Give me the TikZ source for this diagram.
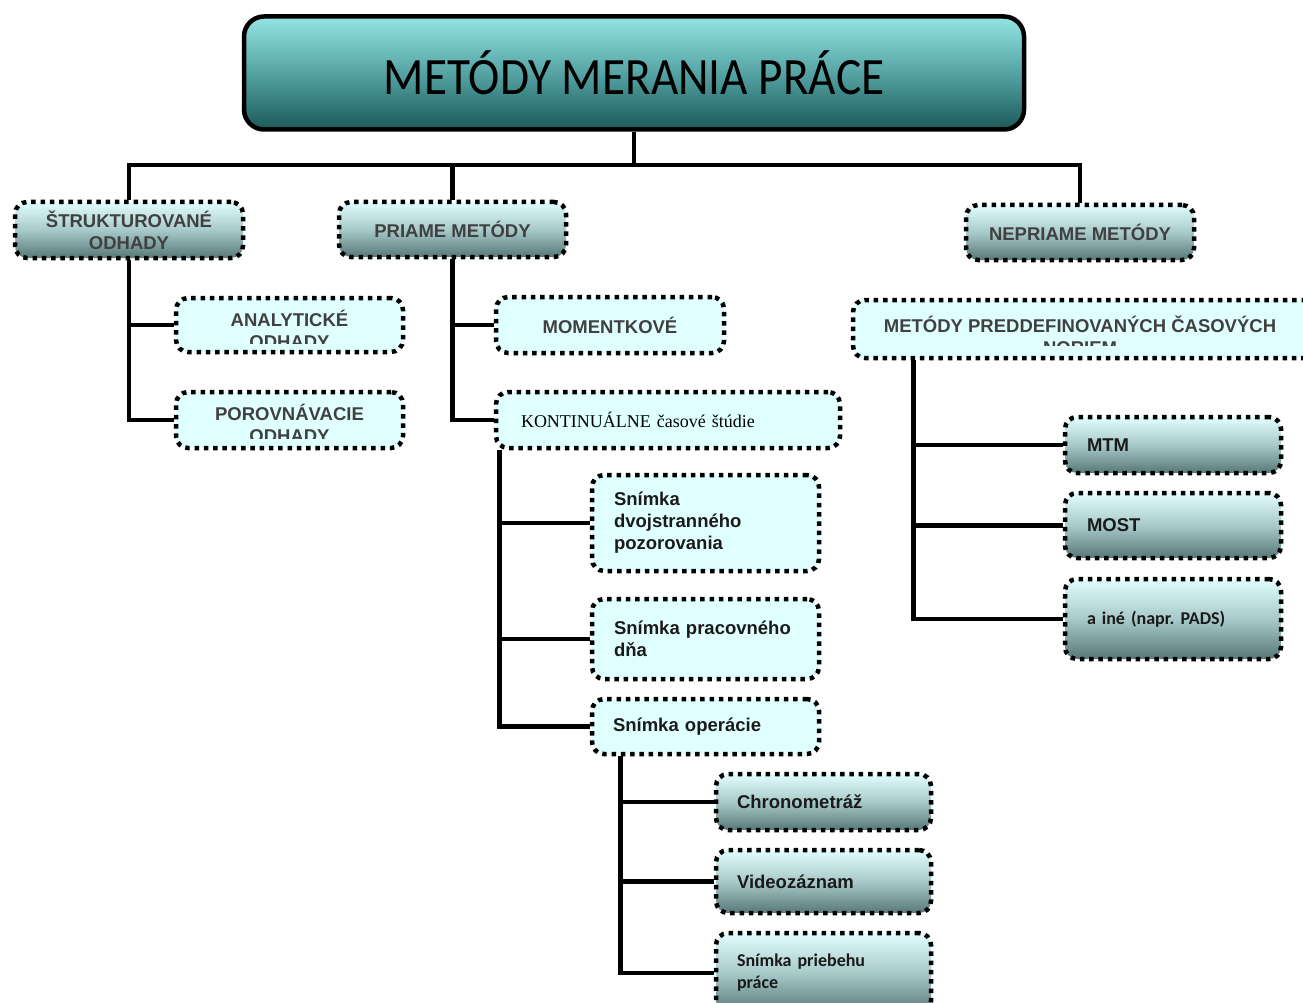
\documentclass[tikz,border=0pt]{standalone}
\usepackage{fontspec}
\setmainfont{Liberation Sans}
\newfontfamily\calib{Carlito}
\newfontfamily\calibT{Carlito}[FakeStretch=0.9]
\newfontfamily\timesf{Liberation Serif}
\usetikzlibrary{calc}
\definecolor{lcyan}{HTML}{E0FFFF}
\definecolor{gtop}{HTML}{E2FDFD}
\definecolor{gmid}{HTML}{A8C9C9}
\definecolor{gbot}{HTML}{587878}
\definecolor{ttop}{HTML}{95E4E4}
\definecolor{tmid}{HTML}{55A3A3}
\definecolor{tbot}{HTML}{1A5959}
\definecolor{dgray}{HTML}{404040}
\definecolor{nblack}{HTML}{1A1A1A}
\tikzset{
  dotbox/.style={draw=black, line width=4.5pt, dash pattern=on 4.5pt off 4.8pt, rounded corners=12pt, inner sep=0pt},
  gbox/.style={dotbox, top color=gtop, bottom color=gbot, middle color=gmid},
  lbox/.style={dotbox, fill=lcyan},
  conn/.style={line width=4.8pt, draw=black},
  capt/.style={font=\bfseries\fontsize{18.5}{22}\selectfont, text=dgray, align=center},
  blk/.style={font=\bfseries\fontsize{18.5}{22}\selectfont, text=nblack, align=left},
  cal/.style={font=\calib\bfseries\frenchspacing\fontsize{18}{22}\selectfont, text=nblack, align=left},
}
\begin{document}
\begin{tikzpicture}[x=1pt,y=-1pt]
\useasboundingbox (0,0) rectangle (1303,1003);
\fill[white] (0,0) rectangle (1303,1003);

% title
\node[draw=black, line width=4.5pt, rounded corners=20pt, top color=ttop, bottom color=tbot, middle color=tmid,
      minimum width=780, minimum height=113, inner sep=0pt,
      font=\calibT\fontsize{52.5}{60}\selectfont] (title) at (634,73) {METÓDY MERANIA PRÁCE};

% level 1
\node[gbox, capt, minimum width=228, minimum height=56] (str) at (129,230) {ŠTRUKTUROVANÉ\\ODHADY};
\node[gbox, capt, minimum width=227, minimum height=55] (pri) at (452.5,229.5) {PRIAME METÓDY};
\node[gbox, capt, minimum width=228, minimum height=55] (nep) at (1080,232.5) {NEPRIAME METÓDY};

% structured estimates
\node[lbox, minimum width=227, minimum height=54] (ana) at (289.5,325) {};
\begin{scope}
  \clip (174,290) rectangle (405,343);
  \node[capt] (anat) at (289.5,329) {ANALYTICKÉ\\ODHADY};
\end{scope}
\node[lbox, minimum width=227, minimum height=56] (por) at (289.5,420) {};
\begin{scope}
  \clip (174,385) rectangle (405,438);
  \node[capt] (port) at (289.5,423) {POROVNÁVACIE\\ODHADY};
\end{scope}

% direct methods
\node[lbox, capt, minimum width=228, minimum height=56] (mom) at (610,325) {MOMENTKOVÉ};
\node[lbox, minimum width=344, minimum height=56, text width=294, inner xsep=25pt, align=left,
      font=\timesf\fontsize{18}{22}\selectfont] (kont) at (668,420) {KONTINUÁLNE časové štúdie};

\node[lbox, blk, minimum height=96, text width=183, inner xsep=22pt] (s1) at (705.5,523) {Snímka\\dvojstranného\\pozorovania};
\node[lbox, blk, minimum height=80, text width=183, inner xsep=22pt] (s2) at (705.5,639) {Snímka pracovného\\dňa};
\node[lbox, blk, minimum height=55, text width=185, inner xsep=21pt] (s3) at (705.5,726.5) {Snímka operácie};

\node[gbox, blk, minimum height=56, text width=173, inner xsep=21pt] (chr) at (823.5,802) {Chronometráž};
\node[gbox, blk, minimum height=63, text width=173, inner xsep=21pt] (vid) at (823.5,881.5) {Videozáznam};
\node[gbox, cal, minimum height=80, text width=173, inner xsep=21pt] (spp) at (823.5,973) {Snímka priebehu\\práce};

% indirect methods
\node[lbox, minimum width=465, minimum height=58] (pred) at (1085.5,329) {};
\begin{scope}
  \clip (851,292) rectangle (1303,345);
  \node[capt] (predt) at (1080,335) {METÓDY PREDDEFINOVANÝCH ČASOVÝCH\\NORIEM};
\end{scope}
\node[gbox, blk, minimum height=56, text width=172, inner xsep=22pt] (mtm) at (1173,445) {MTM};
\node[gbox, blk, minimum height=65, text width=172, inner xsep=22pt] (most) at (1173,525.5) {MOST};
\node[gbox, cal, minimum height=80, text width=172, inner xsep=22pt] (aine) at (1173,619) {a iné (napr. PADS)};

% connectors
\coordinate (bus) at (634,165);
\draw[conn] (title.south) -- (bus);
\draw[conn] (str.north) |- (bus) -| (nep.north);
\draw[conn] (bus) -| (pri.north);

\draw[conn] (str.south) |- (ana.west);
\draw[conn] (str.south) |- (por.west);

\draw[conn] (pri.south) |- (mom.west);
\draw[conn] (pri.south) |- (kont.west);

\coordinate (kb) at ([xshift=6pt]kont.south west);
\draw[conn] (kb) |- (s1.west);
\draw[conn] (kb) |- (s2.west);
\draw[conn] (kb) |- (s3.west);

\coordinate (ob) at ([xshift=31pt]s3.south west);
\draw[conn] (ob) |- (chr.west);
\draw[conn] (ob) |- (vid.west);
\draw[conn] (ob) |- (spp.west);

\coordinate (pb) at ([xshift=63pt]pred.south west);
\draw[conn] (pb) |- (mtm.west);
\draw[conn] (pb) |- (most.west);
\draw[conn] (pb) |- (aine.west);
\end{tikzpicture}
\end{document}
